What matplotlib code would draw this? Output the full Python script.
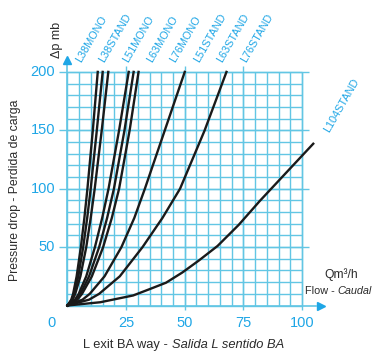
import numpy as np
import matplotlib
matplotlib.use("Agg")
import matplotlib.pyplot as plt

plt.rcParams['font.family'] = ['Liberation Sans', 'DejaVu Sans']

dp_levels = [0, 5, 10, 25, 50, 75, 100, 150, 200]
# flow (m3/h) of each curve at those levels
flow_l38mono = [0, 1.6, 2.4, 3.9, 5.7, 7.2, 8.5, 10.8, 12.9]
flow_l38stand = [0, 1.9, 2.8, 4.6, 6.7, 8.4, 9.9, 12.5, 15.0]
flow_l51mono = [0, 2.2, 3.3, 5.5, 8.0, 9.9, 11.6, 14.6, 17.4]
flow_l63mono = [0, 3.2, 4.8, 8.0, 11.7, 14.8, 17.5, 22.0, 26.1]
flow_l76mono = [0, 3.7, 5.5, 9.2, 13.5, 16.9, 19.8, 24.3, 28.2]
flow_l51stand = [0, 4.2, 6.2, 10.4, 15.2, 18.9, 22.0, 26.5, 30.3]
flow_l63stand = [0, 6.4, 9.5, 15.8, 23.0, 28.5, 33.0, 41.5, 50.0]
flow_l76stand = [0, 9.2, 13.5, 22.3, 32.0, 40.5, 48.0, 58.5, 67.8]
# the big one does not reach the top
l104_flow = [0, 14, 28, 35, 42, 49, 56, 64, 73, 82, 92, 104.8]
l104_dp = [0, 2.8, 8.6, 14, 19.5, 28.3, 38.5, 51, 69, 89.5, 111, 138.5]

curve_labels = ['L38MONO', 'L38STAND', 'L51MONO', 'L63MONO',
                'L76MONO', 'L51STAND', 'L63STAND', 'L76STAND']
label_x = [6, 15.5, 26, 36, 46, 56, 66, 76]
xticks = [25, 50, 75, 100]
yticks = [50, 100, 150, 200]

grid_col = '#62c6e4'
blue = '#1ea6e6'
dark = '#2b2b2b'

fig = plt.figure(figsize=(3.74, 3.55), dpi=100)
ax = fig.add_axes([0.1554, 0.1131, 0.7273, 0.7666])
ax.set_xlim(-4, 112)
ax.set_ylim(-8, 225)
ax.axis('off')

# grid
ax.vlines(np.arange(0, 101, 5), 0, 200, color=grid_col, lw=1.0, zorder=1)
ax.hlines(np.arange(0, 201, 10), 0, 100, color=grid_col, lw=1.0, zorder=1)
ax.vlines(xticks[:-1], -4, 205, color=grid_col, lw=1.0, zorder=1)
ax.vlines([100], -4, 200, color=grid_col, lw=1.0, zorder=1)
ax.hlines(yticks, -3.5, 103, color=grid_col, lw=1.0, zorder=1)

# axes with arrows
ax.plot([0, 0], [0, 207], color=grid_col, lw=1.2, zorder=1)
ax.plot([0, 106], [0, 0], color=grid_col, lw=1.2, zorder=1)
ax.plot([0], [210], marker='^', ms=6, color=blue, clip_on=False)
ax.plot([108], [0], marker='>', ms=6, color=blue, clip_on=False)

# curves
for fl in [flow_l38mono, flow_l38stand, flow_l51mono, flow_l63mono,
           flow_l76mono, flow_l51stand, flow_l63stand, flow_l76stand]:
    ax.plot(fl, dp_levels, color='#1a1a1a', lw=1.7, zorder=3,
            solid_joinstyle='round', clip_on=False)
ax.plot(l104_flow, l104_dp, color='#1a1a1a', lw=1.7, zorder=3,
        solid_joinstyle='round', clip_on=False)

# curve names
for name, lx in zip(curve_labels, label_x):
    ax.text(lx, 207.5, name, rotation=60, rotation_mode='anchor',
            ha='left', va='baseline', color=blue, fontsize=7.8)
ax.text(111.5, 147.7, 'L104STAND', rotation=60, rotation_mode='anchor',
        ha='left', va='baseline', color=blue, fontsize=7.8)

# tick labels
for t in xticks:
    ax.text(t, -15, str(t), ha='center', va='center', color=blue, fontsize=10.5)
for t in yticks:
    ax.text(-5.3, t, str(t), ha='right', va='center', color=blue, fontsize=10.5)
ax.text(-7, -15, '0', ha='center', va='center', color=blue, fontsize=10.5)

# axis titles
fig.text(15 / 374, 1 - 190 / 355, 'Pressure drop - Perdida de carga',
         rotation=90, ha='center', va='center', color=dark, fontsize=8.8)
fig.text(57 / 374, 1 - 40 / 355, '\u0394p mb', rotation=90,
         ha='center', va='center', color=dark, fontsize=9)
t1 = fig.text(83 / 374, 1 - 351 / 355, 'L exit BA way - ', ha='left',
              va='bottom', color=dark, fontsize=9.3)
ax.annotate('Salida L sentido BA', xy=(1, 0), xycoords=t1, ha='left',
            va='bottom', color=dark, fontsize=9.3, style='italic')
fig.text(341 / 374, 1 - 275 / 355, 'Qm\u00b3/h', ha='center', va='center',
         color=dark, fontsize=8.7)
t2 = fig.text(372 / 374, 1 - 296 / 355, 'Caudal', ha='right', va='bottom',
              color=dark, fontsize=7.8, style='italic')
ax.annotate('Flow - ', xy=(0, 0), xycoords=t2, ha='right', va='bottom',
            color=dark, fontsize=7.8)

fig.savefig('out.png', dpi=100, facecolor='white')
